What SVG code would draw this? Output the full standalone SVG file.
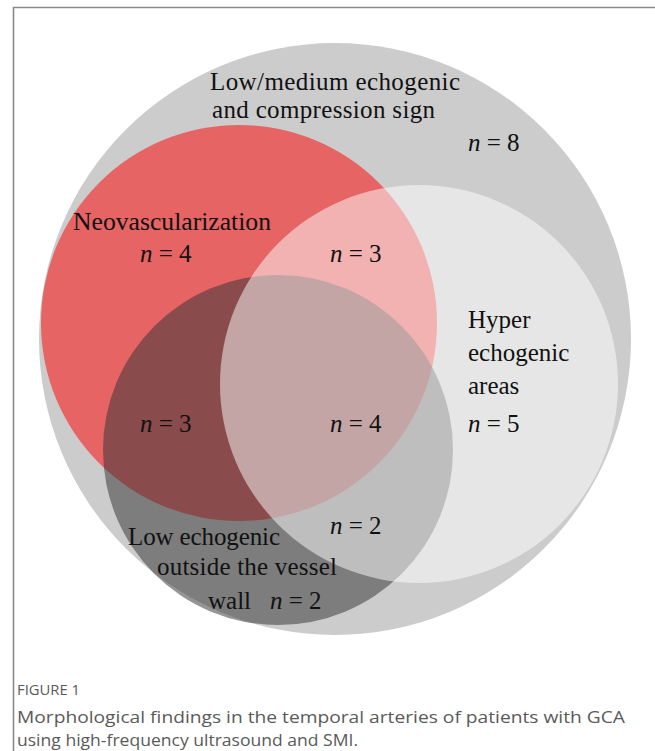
<svg xmlns="http://www.w3.org/2000/svg" width="655" height="751" viewBox="0 0 655 751">
<style>
.lbl{font-family:"Liberation Serif","Times New Roman",serif;font-size:25px;fill:#111;}
.it{font-style:italic;}
.cap{font-family:"Open Sans","Noto Sans","Liberation Sans",sans-serif;fill:#5a5a5a;}
.frame{fill:none;stroke:#8a8a8a;stroke-width:1.6;}
</style>
<rect x="0" y="0" width="655" height="751" fill="#ffffff"/>
<path class="frame" d="M13.5 751 V7.5 H655"/>
<g id="node-low-medium-echogenic">
<circle cx="335" cy="339" r="296" fill="#cccccc"/>
</g>
<g id="node-neovascularization">
<circle cx="239" cy="323" r="198" fill="#e66464"/>
</g>
<g id="node-low-echogenic-outside">
<circle cx="278" cy="450" r="175" fill="#343434" fill-opacity="0.52"/>
</g>
<g id="node-hyper-echogenic">
<circle cx="419" cy="384" r="199" fill="#ffffff" fill-opacity="0.5"/>
</g>
<g id="connectors"/>
<g id="labels">
<g id="label-low-medium">
<text class="lbl" x="210" y="90" textLength="250" lengthAdjust="spacing">Low/medium  echogenic</text>
<text class="lbl" x="212" y="118" textLength="223" lengthAdjust="spacing">and compression  sign</text>
<text class="lbl" x="468" y="151"><tspan class="it">n</tspan> = 8</text>
</g>
<g id="label-neovascularization">
<text class="lbl" x="73" y="230" textLength="198" lengthAdjust="spacingAndGlyphs">Neovascularization</text>
<text class="lbl" x="140" y="262"><tspan class="it">n</tspan> = 4</text>
</g>
<g id="label-neo-hyper">
<text class="lbl" x="330" y="262"><tspan class="it">n</tspan> = 3</text>
</g>
<g id="label-hyper">
<text class="lbl" x="468" y="328">Hyper</text>
<text class="lbl" x="468" y="361">echogenic</text>
<text class="lbl" x="468" y="394">areas</text>
<text class="lbl" x="468" y="432"><tspan class="it">n</tspan> = 5</text>
</g>
<g id="label-neo-low">
<text class="lbl" x="140" y="432"><tspan class="it">n</tspan> = 3</text>
</g>
<g id="label-all">
<text class="lbl" x="330" y="432"><tspan class="it">n</tspan> = 4</text>
</g>
<g id="label-low-hyper">
<text class="lbl" x="330" y="534"><tspan class="it">n</tspan> = 2</text>
</g>
<g id="label-low-echogenic">
<text class="lbl" x="128" y="545" textLength="152" lengthAdjust="spacing">Low echogenic</text>
<text class="lbl" x="157" y="575" textLength="180" lengthAdjust="spacing">outside  the  vessel</text>
<text class="lbl" x="208" y="609">wall</text>
<text class="lbl" x="270" y="609"><tspan class="it">n</tspan> = 2</text>
</g>
</g>
<g id="caption">
<text class="cap" x="17" y="695" font-size="14" textLength="63" lengthAdjust="spacingAndGlyphs">FIGURE 1</text>
<text class="cap" x="17" y="723" font-size="16.5" textLength="608" lengthAdjust="spacingAndGlyphs">Morphological findings in the temporal arteries of patients with GCA</text>
<text class="cap" x="17" y="746" font-size="16.5" textLength="341" lengthAdjust="spacingAndGlyphs">using high-frequency ultrasound and SMI.</text>
</g>
</svg>
